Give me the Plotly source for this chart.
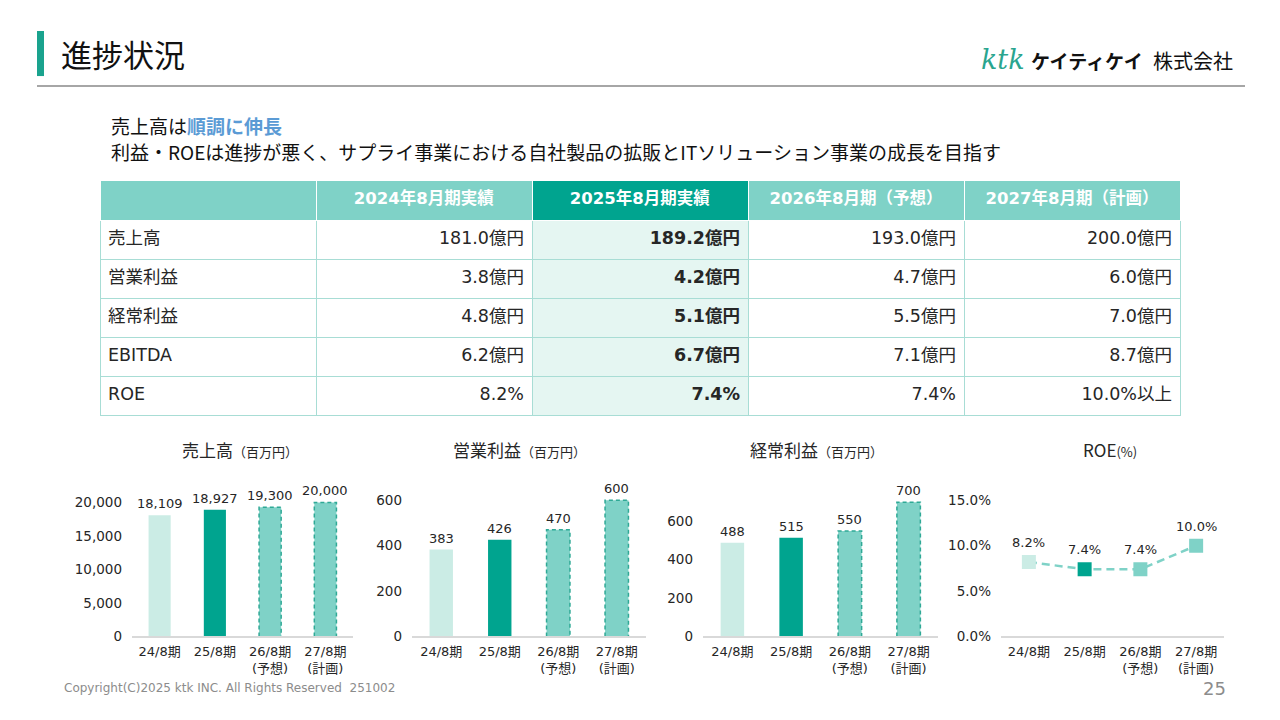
import plotly.graph_objects as go

W, H = 1280, 720
H_EFF = 711.5  # 描画後の実高さに合わせた換算用

# --- data ---
periods = ["24/8期", "25/8期", "26/8期<br>(予想)", "27/8期<br>(計画)"]
sales = [18109, 18927, 19300, 20000]
operating_profit = [383, 426, 470, 600]
ordinary_profit = [488, 515, 550, 700]
roe = [8.2, 7.4, 7.4, 10.0]

row_labels = ["売上高", "営業利益", "経常利益", "EBITDA", "ROE"]
col_headers = ["", "2024年8月期実績", "2025年8月期実績", "2026年8月期（予想）", "2027年8月期（計画）"]
fy2024 = ["181.0億円", "3.8億円", "4.8億円", "6.2億円", "8.2%"]
fy2025 = ["189.2億円", "4.2億円", "5.1億円", "6.7億円", "7.4%"]
fy2026 = ["193.0億円", "4.7億円", "5.5億円", "7.1億円", "7.4%"]
fy2027 = ["200.0億円", "6.0億円", "7.0億円", "8.7億円", "10.0%以上"]

# --- styles ---
LIGHT = "#cbece5"
DARK = "#00a48f"
MID = "#7fd2c7"
EDGE = "#2fa996"
TEXT = "#262626"
FONT = "Noto Sans CJK JP"
NUM_FONT = "DejaVu Sans, Noto Sans CJK JP"
period_colors = [LIGHT, DARK, MID, MID]
dashed = [False, False, True, True]


def px(x):
    return x / W


def py(y):
    return 1 - y / H_EFF


def span(vals, bold=False):
    if bold:
        return [f"<b>{v}</b>" for v in vals]
    return [f"<span>{v}</span>" for v in vals]


fig = go.Figure()

# 表
fig.add_trace(go.Table(
    domain=dict(x=[px(100), px(1180)], y=[py(418), py(180)]),
    columnwidth=[1, 1, 1, 1, 1],
    header=dict(values=span(col_headers, bold=True),
                fill_color=[MID, MID, DARK, MID, MID], line_color="white",
                font=dict(family=NUM_FONT, size=16.5, color="white"), align="center", height=40),
    cells=dict(values=[span(row_labels), span(fy2024), span(fy2025, bold=True), span(fy2026), span(fy2027)],
               fill_color=["white", "white", "#e5f6f2", "white", "white"], line_color="#a8ddd5",
               font=dict(family=NUM_FONT, size=17.5, color=TEXT),
               align=["left", "right", "right", "right", "right"], height=39),
))

# グラフ設定: (値, x範囲px, y上限, 目盛, 目盛文字, タイトル, タイトル位置, ラベル書式)
charts = [
    (sales, (132, 353), 24800, [0, 5000, 10000, 15000, 20000], "{:,}",
     "売上高<span style='font-size:13px'>（百万円）</span>", 240, "{:,}"),
    (operating_profit, (412, 646), 732, [0, 200, 400, 600], "{}",
     "営業利益<span style='font-size:13px'>（百万円）</span>", 519, "{}"),
    (ordinary_profit, (703, 938), 866, [0, 200, 400, 600], "{}",
     "経常利益<span style='font-size:13px'>（百万円）</span>", 816, "{}"),
    (roe, (1001, 1224), 18.3, [0, 5, 10, 15], "{:.1f}%",
     "ROE<span style='font-size:13px'>(%)</span>", 1110, "{:.1f}%"),
]

annotations = []
for n, (vals, (x0, x1), ymax, tvals, tfmt, title, tx, lfmt) in enumerate(charts, start=1):
    xa = "x" if n == 1 else f"x{n}"
    ya = "y" if n == 1 else f"y{n}"
    if n < 4:
        fig.add_trace(go.Bar(x=list(range(4)), y=vals, width=0.4, marker_color=period_colors,
                             marker_line_width=0, xaxis=xa, yaxis=ya, showlegend=False))
        # 予想・計画は点線の枠
        for i, v in enumerate(vals):
            if dashed[i]:
                fig.add_trace(go.Scatter(x=[i - 0.2, i - 0.2, i + 0.2, i + 0.2], y=[0, v, v, 0],
                                         mode="lines", line=dict(color=EDGE, width=1.5, dash="4px,3px"),
                                         xaxis=xa, yaxis=ya, showlegend=False, hoverinfo="skip"))
        shift = 2
    else:
        fig.add_trace(go.Scatter(x=list(range(4)), y=vals, mode="lines+markers",
                                 line=dict(color=MID, width=2.5, dash="8px,5px"),
                                 marker=dict(symbol="square", size=14, color=period_colors),
                                 xaxis=xa, yaxis=ya, showlegend=False))
        shift = 10
    for i, v in enumerate(vals):
        annotations.append(dict(x=i, y=v, xref=xa, yref=ya, text=lfmt.format(v), showarrow=False,
                                xanchor="center", yanchor="bottom", yshift=shift,
                                font=dict(family=NUM_FONT, size=13, color=TEXT)))
    annotations.append(dict(x=px(tx), y=py(449), xref="paper", yref="paper", text=title,
                            xanchor="center", yanchor="middle", showarrow=False,
                            font=dict(size=17, color=TEXT)))

    xkey = "xaxis" if n == 1 else f"xaxis{n}"
    ykey = "yaxis" if n == 1 else f"yaxis{n}"
    fig.update_layout({
        xkey: dict(domain=[px(x0), px(x1)], anchor=ya, range=[-0.5, 3.5],
                   tickvals=list(range(4)), ticktext=periods, showgrid=False, zeroline=False,
                   showline=True, linecolor="#d9d9d9", linewidth=1.5, ticks="",
                   tickfont=dict(family=NUM_FONT, size=13, color=TEXT), ticklabelstandoff=2,
                   fixedrange=True),
        ykey: dict(domain=[py(636), py(470)], anchor=xa, range=[0, ymax], tickvals=tvals,
                   ticktext=[tfmt.format(t) for t in tvals], showgrid=False,
                   zeroline=False, showline=False, ticks="", ticklabelstandoff=9,
                   tickfont=dict(family=NUM_FONT, size=13.5, color=TEXT), fixedrange=True),
    })

# 見出し・本文
header_notes = [
    dict(x=px(59), y=py(53), text="進捗状況", font=dict(size=31, color="#111")),
    dict(x=px(979), y=py(59), text="<i>ktk</i>", font=dict(family="DejaVu Serif", size=27, color="#2aa58f")),
    dict(x=px(1029), y=py(60), text="<b>ケイティケイ</b>", font=dict(size=19, color="#111")),
    dict(x=px(1151), y=py(60), text="株式会社", font=dict(size=20, color="#111")),
    dict(x=px(109), y=py(125), text="売上高は<b><span style='color:#5b9bd5'>順調に伸長</span></b>",
         font=dict(size=19, color="#111")),
    dict(x=px(109), y=py(151), text="利益・ROEは進捗が悪く、サプライ事業における自社製品の拡販とITソリューション事業の成長を目指す",
         font=dict(size=19, color="#111")),
    dict(x=px(62), y=py(688), text="Copyright(C)2025 ktk INC. All Rights Reserved  251002",
         font=dict(family="DejaVu Sans", size=12, color="#8c8c8c")),
    dict(x=px(1228), y=py(688), text="25", xanchor="right",
         font=dict(family="DejaVu Sans", size=18, color="#8c8c8c")),
]
for a in header_notes:
    a.update(xref="paper", yref="paper", showarrow=False, yanchor="middle")
    a.setdefault("xanchor", "left")
annotations += header_notes

fig.update_layout(
    width=W, height=H, margin=dict(l=0, r=0, t=0, b=0),
    paper_bgcolor="white", plot_bgcolor="white",
    font=dict(family=FONT, color=TEXT),
    annotations=annotations,
    shapes=[
        dict(type="rect", xref="paper", yref="paper", x0=px(37), x1=px(44), y0=py(76), y1=py(31),
             fillcolor="#1aa38e", line_width=0),
        dict(type="line", xref="paper", yref="paper", x0=px(37), x1=px(1245), y0=py(86), y1=py(86),
             line=dict(color="#a6a6a6", width=2)),
    ],
)

fig.write_html("out.html", config={"displayModeBar": False},
               post_script="document.body.style.margin='0';document.body.style.overflow='hidden';"
                           "document.documentElement.style.overflow='hidden';")
